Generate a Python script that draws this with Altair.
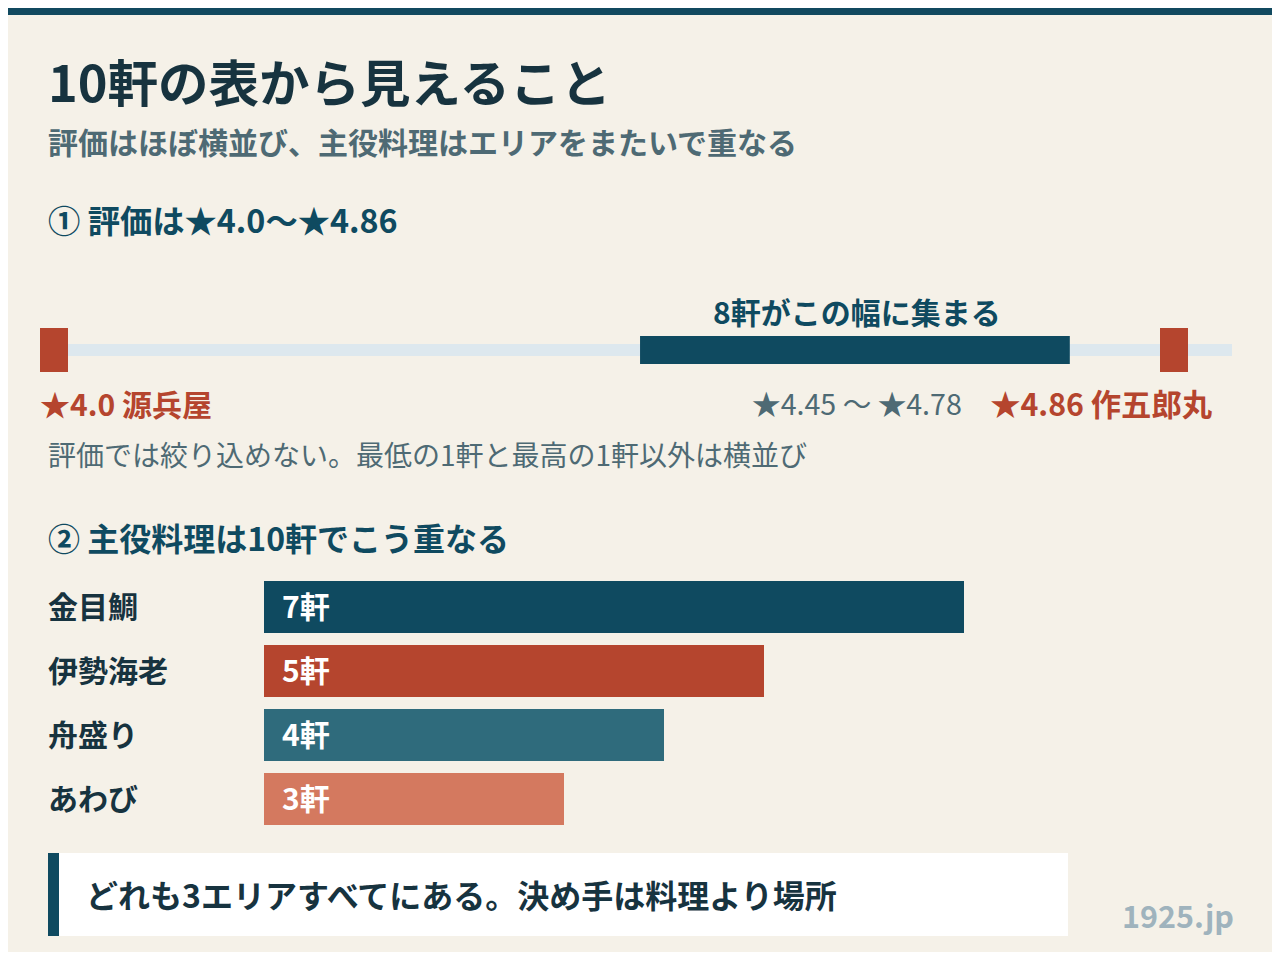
import altair as alt
import pandas as pd

# ---- data ----
title_text = "10軒の表から見えること"
subtitle_text = "評価はほぼ横並び、主役料理はエリアをまたいで重なる"
sec1_text = "① 評価は★4.0〜★4.86"
sec2_text = "② 主役料理は10軒でこう重なる"
note_text = "評価では絞り込めない。最低の1軒と最高の1軒以外は横並び"
callout_text = "どれも3エリアすべてにある。決め手は料理より場所"
credit_text = "1925.jp"

extreme_ratings = [4.0, 4.86]
extreme_names = ["源兵屋", "作五郎丸"]
cluster_low = 4.45
cluster_high = 4.78
cluster_count = 8

dishes = ["金目鯛", "伊勢海老", "舟盛り", "あわび"]
dish_counts = [7, 5, 4, 3]
dish_colors = ["#0f4a60", "#b5452e", "#2f6b7c", "#d4795f"]

FONT = "Noto Sans CJK JP"
BG = "#f5f1e8"
DARK = "#17333f"
TEAL = "#0f4a60"
RED = "#b5452e"
GREY = "#4e6a74"

one = pd.DataFrame({"a": [0]})

def txt(s, x, y, size, color, weight="bold", align="left"):
    return alt.Chart(pd.DataFrame({"t": [s]})).mark_text(
        font=FONT, fontSize=size, fontWeight=weight, color=color,
        align=align, baseline="middle"
    ).encode(text="t:N", x=alt.value(x), y=alt.value(y))

def box(x, x2, y, y2, color):
    return alt.Chart(one).mark_rect(color=color).encode(
        x=alt.value(x), x2=alt.value(x2), y=alt.value(y), y2=alt.value(y2))

top_band = box(0, 1264, 0, 7, "#11495f")

title = txt(title_text, 40, 79, 50.5, DARK)
subtitle = txt(subtitle_text, 40, 137, 30, GREY)
sec1 = txt(sec1_text, 40, 215, 32.3, TEAL)
sec2 = txt(sec2_text, 40, 533, 32, TEAL)
note = txt(note_text, 40, 450, 28, GREY, weight="normal")

# ---- rating strip ----
rscale = alt.Scale(domain=[4.0, 4.86], range=[46, 1166])
track = box(32, 1224, 336, 348, "#dde8ee")

cluster_df = pd.DataFrame({
    "lo": [cluster_low], "hi": [cluster_high],
    "mid": [(cluster_low + cluster_high) / 2],
    "lab": [f"{cluster_count}軒がこの幅に集まる"],
    "rng": [f"★{cluster_low} 〜 ★{cluster_high}"],
})
cluster_bar = alt.Chart(cluster_df).mark_rect(color=TEAL).encode(
    x=alt.X("lo:Q", scale=rscale, axis=None),
    x2="hi:Q",
    y=alt.value(328), y2=alt.value(356))
cluster_lab = alt.Chart(cluster_df).mark_text(
    font=FONT, fontSize=30, fontWeight="bold", color=TEAL, baseline="middle", dx=2
).encode(x=alt.X("mid:Q", scale=rscale, axis=None), y=alt.value(307), text="lab:N")
cluster_rng = alt.Chart(cluster_df).mark_text(
    font=FONT, fontSize=28.6, fontWeight="normal", color=GREY, baseline="middle", dx=2
).encode(x=alt.X("mid:Q", scale=rscale, axis=None), y=alt.value(398), text="rng:N")

ext_df = pd.DataFrame({
    "r": extreme_ratings,
    "lab": [f"★{r} {n}" for r, n in zip(extreme_ratings, extreme_names)],
})
markers = alt.Chart(ext_df).mark_tick(color=RED, thickness=28, size=44, opacity=1).encode(
    x=alt.X("r:Q", scale=rscale, axis=None), y=alt.value(342))
ext_left = alt.Chart(ext_df.iloc[[0]]).mark_text(
    font=FONT, fontSize=30, fontWeight="bold", color=RED, align="left", baseline="middle", dx=-14
).encode(x=alt.X("r:Q", scale=rscale, axis=None), y=alt.value(399), text="lab:N")
ext_right = alt.Chart(ext_df.iloc[[1]]).mark_text(
    font=FONT, fontSize=30.3, fontWeight="bold", color=RED, align="right", baseline="middle", dx=38
).encode(x=alt.X("r:Q", scale=rscale, axis=None), y=alt.value(399), text="lab:N")

# ---- dish bars ----
dish_df = pd.DataFrame({
    "dish": dishes, "n": dish_counts,
    "lab": [f"{c}軒" for c in dish_counts],
})
cscale = alt.Scale(domain=[0, 7], range=[256, 956])
yscale = alt.Scale(type="band", domain=dishes, range=[573, 817], paddingInner=0.1875, paddingOuter=0)
bars = alt.Chart(dish_df).mark_bar().encode(
    x=alt.X("n:Q", scale=cscale, axis=None),
    x2=alt.datum(0),
    y=alt.Y("dish:N", scale=yscale, axis=None, sort=dishes),
    color=alt.Color("dish:N", scale=alt.Scale(domain=dishes, range=dish_colors), legend=None),
)
bar_labels = alt.Chart(dish_df).mark_text(
    font=FONT, fontSize=30, fontWeight="bold", color="white", align="left", baseline="middle", dy=2
).encode(x=alt.value(274), y=alt.Y("dish:N", scale=yscale, axis=None, sort=dishes), text="lab:N")
dish_labels = alt.Chart(dish_df).mark_text(
    font=FONT, fontSize=30, fontWeight="bold", color=DARK, align="left", baseline="middle", dy=2
).encode(x=alt.value(40), y=alt.Y("dish:N", scale=yscale, axis=None, sort=dishes), text="dish:N")

# ---- callout ----
callout_bg = box(40, 1060, 845, 928, "white")
callout_edge = box(40, 51, 845, 928, TEAL)
callout = txt(callout_text, 78, 890, 32, DARK)
credit = txt(credit_text, 1226, 911, 30.5, "#9fb3bd", align="right")

chart = alt.layer(
    top_band, title, subtitle, sec1, track, cluster_bar, cluster_lab, cluster_rng,
    markers, ext_left, ext_right, note, sec2, bars, bar_labels, dish_labels,
    callout_bg, callout_edge, callout, credit,
).resolve_scale(x="independent", y="independent", color="independent").properties(
    width=1264, height=944, background=BG, padding=0,
    autosize=alt.AutoSizeParams(type="none"),
).configure_view(strokeWidth=0)

chart.save("out.html", embed_options={"renderer": "svg", "actions": False})
